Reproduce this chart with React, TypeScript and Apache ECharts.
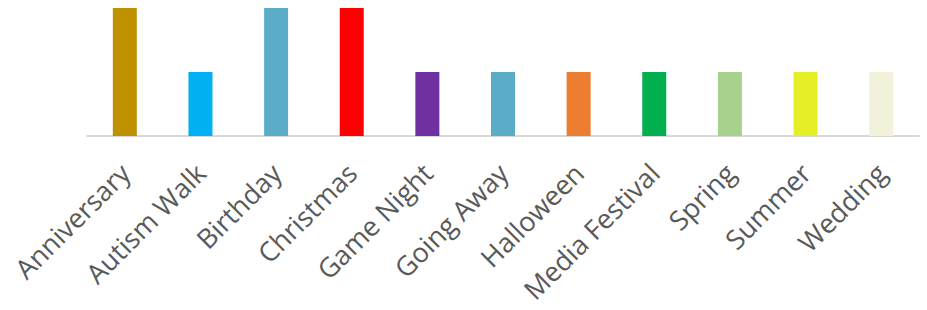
import React, { useEffect, useRef } from "react";
import * as echarts from "echarts";

const categories = [
  "Anniversary",
  "Autism Walk",
  "Birthday",
  "Christmas",
  "Game Night",
  "Going Away",
  "Halloween",
  "Media Festival",
  "Spring",
  "Summer",
  "Wedding",
];
const values = [2, 1, 2, 2, 1, 1, 1, 1, 1, 1, 1];
const colors = [
  "#BF9000",
  "#00B0F0",
  "#5BACC6",
  "#FF0000",
  "#7030A0",
  "#5BACC6",
  "#ED7D31",
  "#00B050",
  "#A9D18E",
  "#E6EE28",
  "#F3F2DA",
];

export default function App() {
  const ref = useRef<HTMLDivElement>(null);
  useEffect(() => {
    document.body.style.margin = "0";
    if (!ref.current) return;
    const chart = echarts.init(ref.current, undefined, { renderer: "svg" });
    chart.setOption({
      animation: false,
      grid: { left: 87, right: 8, top: 8, height: 128, containLabel: false },
      xAxis: {
        type: "category",
        data: categories,
        axisLine: { show: true, lineStyle: { color: "#D9D9D9", width: 2 } },
        axisTick: { show: false },
        axisLabel: {
          interval: 0,
          rotate: 45,
          margin: 32,
          color: "#595959",
          fontFamily: "Open Sans",
          fontSize: 27,
        },
      },
      yAxis: {
        type: "value",
        min: 0,
        max: 2,
        show: false,
        splitLine: { show: false },
      },
      series: [
        {
          type: "bar",
          data: values.map((v, i) => ({ value: v, itemStyle: { color: colors[i] } })),
          barWidth: 24,
        },
      ],
    });
    return () => chart.dispose();
  }, []);
  return <div ref={ref} style={{ width: 927, height: 310 }} />;
}
